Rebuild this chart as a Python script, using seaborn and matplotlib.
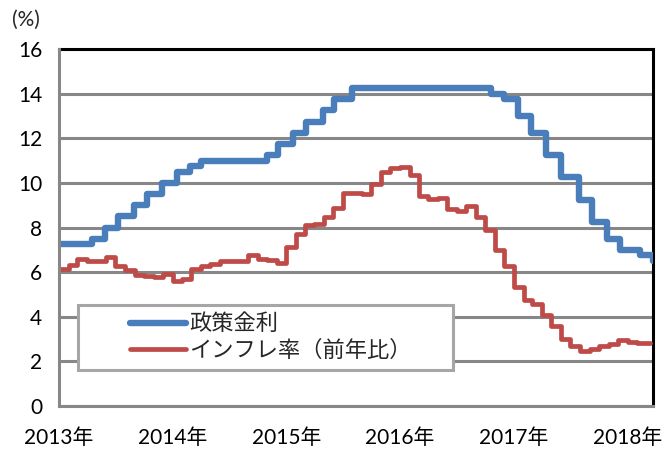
import matplotlib
matplotlib.use("Agg")
import matplotlib.pyplot as plt
from matplotlib.patches import Rectangle
import pandas as pd
import seaborn as sns

# ---- data ----
policy_dates = ["2013-01-01", "2013-04-18", "2013-05-30", "2013-07-11", "2013-08-29",
                "2013-10-10", "2013-11-28", "2014-01-16", "2014-02-27", "2014-04-03",
                "2014-10-30", "2014-12-04", "2015-01-22", "2015-03-05", "2015-04-30",
                "2015-06-04", "2015-07-30", "2016-10-20", "2016-12-01", "2017-01-12",
                "2017-02-23", "2017-04-13", "2017-06-01", "2017-07-27", "2017-09-07",
                "2017-10-26", "2017-12-07", "2018-02-08", "2018-03-22", "2018-03-24"]
policy_rate = [7.25, 7.50, 8.00, 8.50, 9.00, 9.50, 10.00, 10.50, 10.75, 11.00,
               11.25, 11.75, 12.25, 12.75, 13.25, 13.75, 14.25, 14.00, 13.75, 13.00,
               12.25, 11.25, 10.25, 9.25, 8.25, 7.50, 7.00, 6.75, 6.50, 6.50]

infl_dates = list(pd.date_range("2013-01-01", "2018-02-01", freq="MS").strftime("%Y-%m-%d")) + ["2018-03-14"]
infl_rate = [6.15, 6.31, 6.59, 6.49, 6.50, 6.70, 6.27, 6.09, 5.86, 5.84, 5.77, 5.91,
             5.59, 5.68, 6.15, 6.28, 6.37, 6.52, 6.50, 6.51, 6.75, 6.59, 6.56, 6.41,
             7.14, 7.70, 8.13, 8.17, 8.47, 8.89, 9.56, 9.53, 9.49, 9.93, 10.48, 10.67,
             10.71, 10.36, 9.39, 9.28, 9.32, 8.84, 8.74, 8.97, 8.48, 7.87, 6.99, 6.29,
             5.35, 4.76, 4.57, 4.08, 3.60, 3.00, 2.71, 2.46, 2.54, 2.70, 2.80, 2.95,
             2.86, 2.84, 2.84]

series_names = ["政策金利", "インフレ率（前年比）"]
year_ticks = ["2013", "2014", "2015", "2016", "2017", "2018"]
tick_labels = [y + "年" for y in year_ticks]
y_ticks = [0, 2, 4, 6, 8, 10, 12, 14, 16]

policy_df = pd.DataFrame({"date": pd.to_datetime(policy_dates), "value": policy_rate})
infl_df = pd.DataFrame({"date": pd.to_datetime(infl_dates), "value": infl_rate})

# ---- style ----
sns.set_theme(style="white")
plt.rcParams["font.family"] = ["Lato", "Noto Sans CJK JP", "DejaVu Sans"]

blue = "#4A7EBB"
red = "#BE4B48"
grid_c = "#878787"

fig = plt.figure(figsize=(6.64, 4.5), dpi=100)
ax = fig.add_axes([59 / 664, 1 - 406 / 450, 594 / 664, 357 / 450])

sns.lineplot(data=policy_df, x="date", y="value", ax=ax, color=blue, lw=4.6,
             drawstyle="steps-post", label=series_names[0], zorder=3,
             solid_joinstyle="round", solid_capstyle="round")
sns.lineplot(data=infl_df, x="date", y="value", ax=ax, color=red, lw=3.4,
             drawstyle="steps-post", label=series_names[1], zorder=3,
             solid_joinstyle="round", solid_capstyle="round")

ax.set_xlim(pd.Timestamp("2013-01-01"), pd.Timestamp("2018-03-23"))
ax.set_ylim(0, 16)
ax.set_yticks(y_ticks)
ax.set_yticklabels([str(v) for v in y_ticks], fontsize=15)
ax.set_xticks(pd.to_datetime([y + "-01-01" for y in year_ticks]))
ax.set_xticklabels(tick_labels, fontsize=15)
ax.set_xlabel("")
ax.set_ylabel("")

ax.grid(axis="y", color=grid_c, lw=2.2, zorder=0)
ax.grid(axis="x", visible=False)
for s in ["left", "bottom"]:
    ax.spines[s].set_color(grid_c)
    ax.spines[s].set_linewidth(2.2)
for s in ["top", "right"]:
    ax.spines[s].set_color("black")
    ax.spines[s].set_linewidth(2.2)
ax.spines["left"].set_zorder(4)
ax.tick_params(axis="y", direction="out", length=7, width=2.2, color=grid_c, pad=5,
               labelcolor="black")
ax.tick_params(axis="x", direction="out", length=6, width=2.2, color=grid_c, pad=10,
               labelcolor="black")

# legend box
ax.add_patch(Rectangle((0.032, 0.101), 0.631, 0.182, transform=ax.transAxes,
                       facecolor="white", edgecolor="#A6A6A6", lw=2.2, zorder=5))
leg = ax.legend(loc="center", bbox_to_anchor=(0.357, 0.192), frameon=False,
                fontsize=16, handlelength=2.5, handletextpad=0.15, labelspacing=0.25,
                borderpad=0.1)
leg.set_zorder(6)
for h in leg.get_lines():
    h.set_solid_capstyle("round")

fig.text(12 / 664, 1 - 20 / 450, "(%)", fontsize=15, va="center", ha="left")

fig.savefig("out.png", dpi=100)
